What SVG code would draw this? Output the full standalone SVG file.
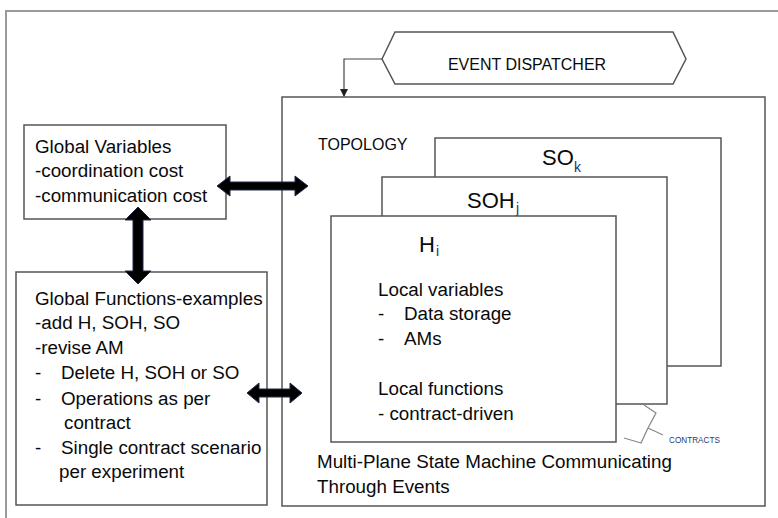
<svg xmlns="http://www.w3.org/2000/svg" width="778" height="518" viewBox="0 0 778 518">
<style>
  .box { fill: #ffffff; stroke: #555555; stroke-width: 1.5; }
  .frame { fill: none; stroke: #9a9a9a; stroke-width: 2; }
  .t { font-family: "Liberation Sans", Arial, sans-serif; font-size: 18.8px; fill: #0a0a0a; }
  .cap { font-family: "Liberation Sans", Arial, sans-serif; font-size: 16px; fill: #0a0a0a; }
  .big { font-family: "Liberation Sans", Arial, sans-serif; font-size: 22px; fill: #0a0a0a; }
  .sub { font-family: "Liberation Sans", Arial, sans-serif; font-size: 14px; fill: #1e2f66; }
  .small { font-family: "Liberation Sans", Arial, sans-serif; font-size: 8.2px; fill: #1f3a6e; }
  .thick { fill: #000000; stroke: #1f2a44; stroke-width: 1; stroke-linejoin: miter; }
  .thin { fill: none; stroke: #444444; stroke-width: 1.2; }
  .brace { fill: none; stroke: #8a8a8a; stroke-width: 1.3; stroke-linejoin: round; }
</style>
<defs>
  <marker id="tip" viewBox="0 0 8 8" refX="7" refY="4" markerWidth="8" markerHeight="8" markerUnits="userSpaceOnUse" orient="auto">
    <path d="M0,0 L8,4 L0,8 Z" fill="#222222"/>
  </marker>
</defs>
<rect width="778" height="518" fill="#ffffff"/>
<rect class="frame" x="6" y="11" width="900" height="600"/>

<g id="container">
  <rect class="box" x="282" y="97" width="483" height="409"/>
  <text class="cap" x="318" y="150">TOPOLOGY</text>
  <text class="t" x="317" y="468">Multi-Plane State Machine Communicating</text>
  <text class="t" x="317" y="493">Through Events</text>
</g>

<g id="event-dispatcher">
  <polygon class="box" points="382,59 395,32 673,32 686,59 673,84 395,84"/>
  <text class="cap" x="527" y="70" text-anchor="middle">EVENT DISPATCHER</text>
</g>

<g id="so-k">
  <rect class="box" x="435" y="138" width="286" height="228"/>
  <text class="big" x="542" y="165">SO</text>
  <text class="sub" x="574" y="172">k</text>
</g>

<g id="soh-j">
  <rect class="box" x="382" y="177" width="285" height="227"/>
  <text class="big" x="467" y="208">SOH</text>
  <text class="sub" x="516" y="213">j</text>
</g>

<g id="h-i">
  <rect class="box" x="331" y="216" width="285" height="226"/>
  <text class="big" x="419" y="252">H</text>
  <text class="sub" x="436" y="256">i</text>
  <text class="t" x="378" y="296">Local variables</text>
  <text class="t" x="378" y="320">-</text>
  <text class="t" x="404" y="320">Data storage</text>
  <text class="t" x="378" y="345">-</text>
  <text class="t" x="404" y="345">AMs</text>
  <text class="t" x="378" y="395">Local functions</text>
  <text class="t" x="378" y="420">- contract-driven</text>
</g>

<g id="contracts">
  <path class="brace" d="M644,405 L656,413 L648,428 L641,443 L624,438 M648,428 L663,435"/>
  <text class="small" x="669" y="443">CONTRACTS</text>
</g>

<g id="global-variables">
  <rect class="box" x="24" y="125" width="202" height="94"/>
  <text class="t" x="35" y="153">Global Variables</text>
  <text class="t" x="35" y="177">-coordination cost</text>
  <text class="t" x="35" y="202">-communication cost</text>
</g>

<g id="global-functions">
  <rect class="box" x="16" y="272" width="251" height="233"/>
  <text class="t" x="35" y="305">Global Functions-examples</text>
  <text class="t" x="35" y="329">-add H, SOH, SO</text>
  <text class="t" x="35" y="354">-revise AM</text>
  <text class="t" x="35" y="379">-</text>
  <text class="t" x="61" y="379">Delete H, SOH or SO</text>
  <text class="t" x="35" y="405">-</text>
  <text class="t" x="61" y="405">Operations as per</text>
  <text class="t" x="64" y="429">contract</text>
  <text class="t" x="35" y="454">-</text>
  <text class="t" x="61" y="454">Single contract scenario</text>
  <text class="t" x="59" y="478">per experiment</text>
</g>

<g id="connectors">
  <polyline class="thin" points="382,59 344,59 344,96" marker-end="url(#tip)"/>
  <polygon class="thick" points="217,186 230,176 230,182 295,182 295,176 308,186 295,196 295,190 230,190 230,196"/>
  <polygon class="thick" points="138,207 151,220 143,220 143,271 151,271 138,284 125,271 133,271 133,220 125,220"/>
  <polygon class="thick" points="247,393 259,383 259,389 290,389 290,383 302,393 290,403 290,397 259,397 259,403"/>
</g>
</svg>
